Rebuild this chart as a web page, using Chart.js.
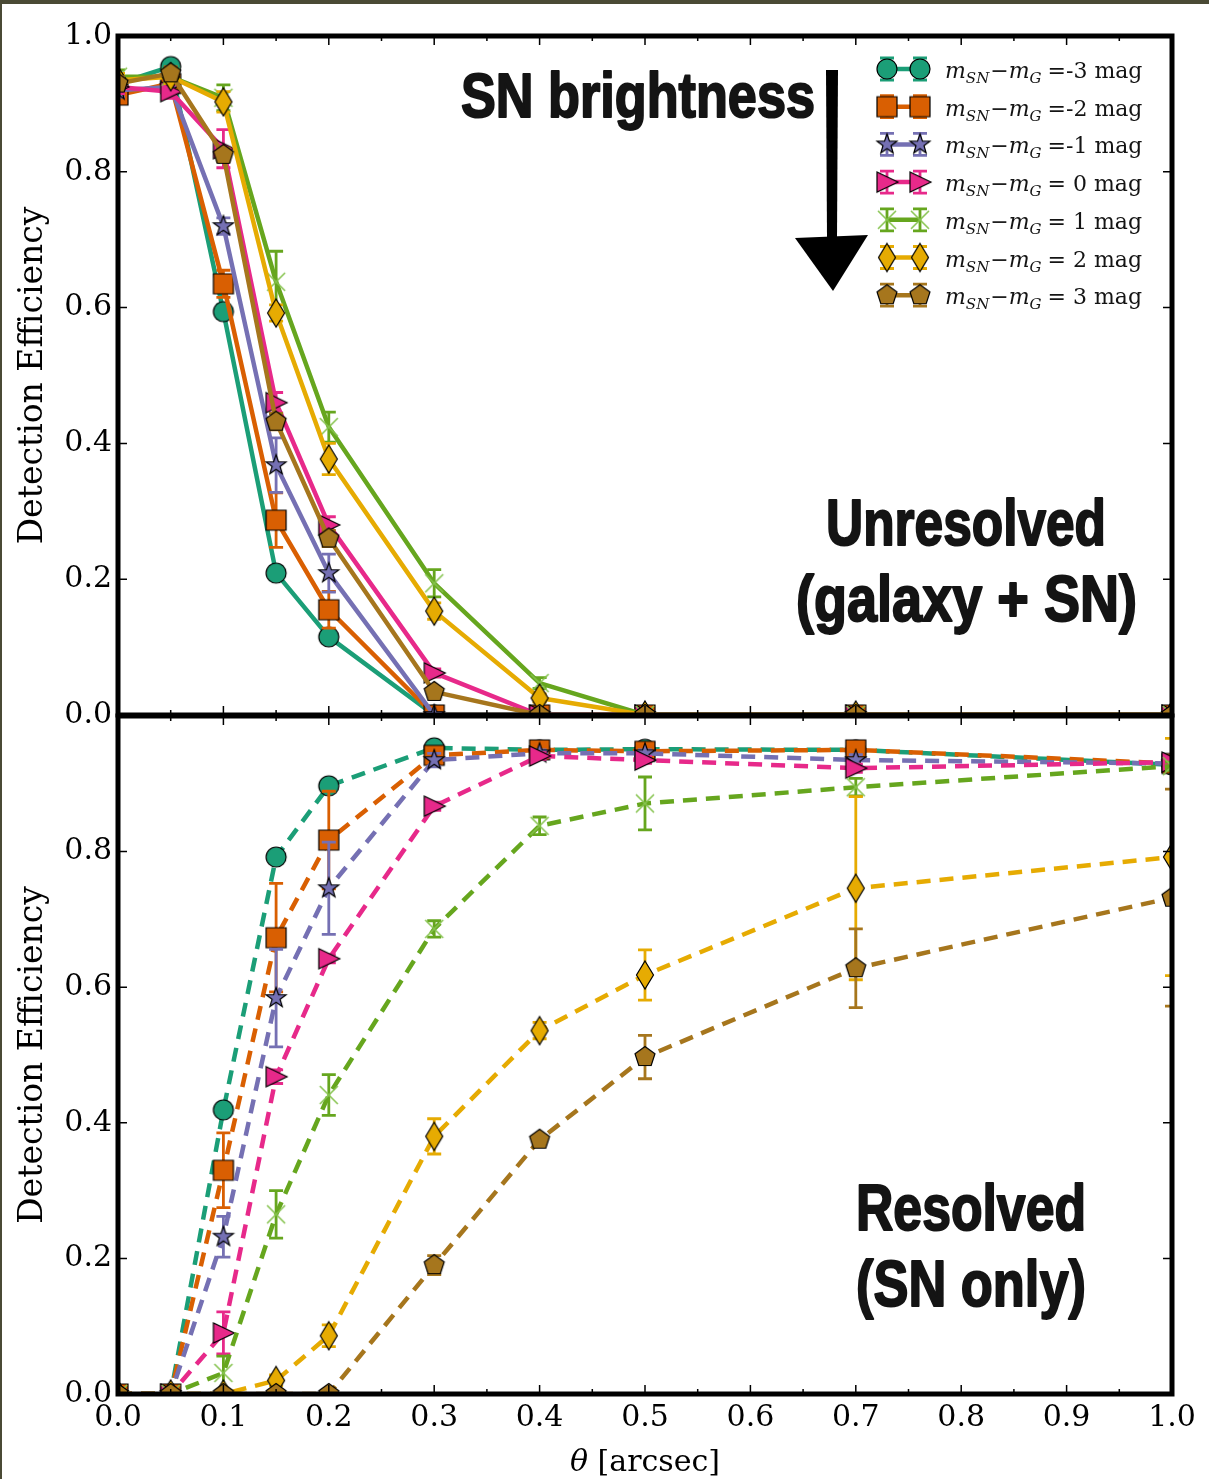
<!DOCTYPE html>
<html>
<head>
<meta charset="utf-8">
<title>Detection efficiency vs separation</title>
<script src="https://cdn.jsdelivr.net/npm/chart.js@4.4.1/dist/chart.umd.min.js"></script>
<style>
  html, body { margin: 0; padding: 0; background: #fff; }
  body { width: 1209px; height: 1479px; position: relative; overflow: hidden; }
  .wrap { position: absolute; left: 0; width: 1209px; }
  #topWrap { top: 0; height: 740px; }
  #botWrap { top: 690px; height: 789px; }
  #edgeTop { position: absolute; left: 0; top: 0; width: 1209px; height: 4px; background: #4a4a35; }
  #edgeLeft { position: absolute; left: 0; top: 0; width: 2px; height: 1479px; background: #4a4a35; }
</style>
</head>
<body>
<div class="wrap" id="topWrap"><canvas id="unresolved" width="1209" height="740"></canvas></div>
<div class="wrap" id="botWrap"><canvas id="resolved" width="1209" height="789"></canvas></div>
<div id="edgeTop"></div>
<div id="edgeLeft"></div>
<script>
// separation between SN and galaxy centre, arcsec
const theta = [0, 0.05, 0.1, 0.15, 0.2, 0.3, 0.4, 0.5, 0.7, 1.0];
const magTails = ['=-3 mag', '=-2 mag', '=-1 mag', '= 0 mag', '= 1 mag', '= 2 mag', '= 3 mag'];

// unresolved (galaxy + SN) efficiencies, m_SN - m_G = -3 ... +3
const unresM3 = [0.930, 0.955, 0.594, 0.209, 0.115, 0, 0, 0, 0, 0];
const unresM2 = [0.913, 0.930, 0.635, 0.287, 0.155, 0, 0, 0, 0, 0];
const unresM1 = [0.920, 0.925, 0.720, 0.368, 0.209, 0, 0, 0, 0, 0];
const unresP0 = [0.925, 0.918, 0.834, 0.460, 0.280, 0.062, 0, 0, 0, 0];
const unresP1 = [0.940, 0.940, 0.909, 0.638, 0.424, 0.194, 0.047, 0, 0, 0];
const unresP2 = [0.935, 0.940, 0.903, 0.592, 0.377, 0.153, 0.025, 0, 0, 0];
const unresP3 = [0.930, 0.945, 0.825, 0.432, 0.260, 0.034, 0, 0, 0, 0];

const unresErrM3 = [0.008, 0.008, 0.010, 0.010, 0.008, 0, 0, 0, 0, 0];
const unresErrM2 = [0.010, 0.010, 0.020, 0.040, 0.027, 0, 0, 0, 0, 0];
const unresErrM1 = [0.010, 0.010, 0.012, 0.040, 0.028, 0, 0, 0, 0, 0];
const unresErrP0 = [0.010, 0.010, 0.028, 0.015, 0.012, 0.006, 0, 0, 0, 0];
const unresErrP1 = [0.010, 0.010, 0.019, 0.045, 0.022, 0.020, 0.008, 0, 0, 0];
const unresErrP2 = [0.010, 0.010, 0.015, 0.012, 0.023, 0.012, 0.006, 0, 0, 0];
const unresErrP3 = [0.010, 0.010, 0.010, 0.012, 0.012, 0.006, 0, 0, 0, 0];

// resolved (SN only) efficiencies
const resM3 = [0, 0, 0.419, 0.792, 0.897, 0.953, 0.950, 0.951, 0.950, 0.928];
const resM2 = [0, 0, 0.330, 0.673, 0.817, 0.942, 0.950, 0.948, 0.950, 0.930];
const resM1 = [0, 0, 0.232, 0.584, 0.746, 0.935, 0.945, 0.945, 0.935, 0.930];
const resP0 = [0, 0, 0.090, 0.468, 0.642, 0.867, 0.941, 0.935, 0.923, 0.932];
const resP1 = [0, 0, 0.031, 0.265, 0.441, 0.686, 0.838, 0.871, 0.895, 0.926];
const resP2 = [0, 0, 0, 0.020, 0.086, 0.380, 0.536, 0.618, 0.746, 0.792];
const resP3 = [0, 0, 0, 0, 0, 0.190, 0.375, 0.497, 0.628, 0.732];

const resErrM3 = [0, 0, 0.006, 0.006, 0.006, 0.005, 0.004, 0.004, 0.004, 0.004];
const resErrM2 = [0, 0, 0.055, 0.080, 0.072, 0.010, 0.005, 0.005, 0.008, 0.005];
const resErrM1 = [0, 0, 0.030, 0.072, 0.068, 0.010, 0.005, 0.005, 0.008, 0.005];
const resErrP0 = [0, 0, 0.031, 0.010, 0.006, 0.006, 0.005, 0.005, 0.006, 0.005];
const resErrP1 = [0, 0, 0.025, 0.035, 0.030, 0.012, 0.013, 0.039, 0.013, 0.006];
const resErrP2 = [0, 0, 0, 0.008, 0.016, 0.026, 0.012, 0.037, 0.135, 0.175];
const resErrP3 = [0, 0, 0, 0, 0, 0.014, 0.006, 0.032, 0.058, 0.160];

const seriesColors = ['#1b9e77', '#d95f02', '#7570b3', '#e7298a', '#66a61e', '#e6ab02', '#a6761d'];
const markerKinds = ['circle', 'square', 'star', 'triRight', 'x', 'thinDiamond', 'pentagon'];

const SERIF = '"DejaVu Serif", "Liberation Serif", serif';
const INK = '#141414';

// offscreen marker sprites, used as pointStyle and in the legend
function makeMarker(kind, fill) {
  const size = 36;
  const c = document.createElement('canvas');
  c.width = size; c.height = size;
  const g = c.getContext('2d');
  g.translate(size / 2, size / 2);
  g.lineWidth = 1.2;
  g.strokeStyle = '#000';
  g.fillStyle = fill;
  g.lineJoin = 'miter';
  g.beginPath();
  if (kind === 'circle') {
    g.arc(0, 0, 10, 0, Math.PI * 2);
  } else if (kind === 'square') {
    g.rect(-10, -10, 20, 20);
  } else if (kind === 'star') {
    for (let i = 0; i < 10; i++) {
      const r = i % 2 ? 4.2 : 10.5;
      const a = -Math.PI / 2 + i * Math.PI / 5;
      g.lineTo(r * Math.cos(a), r * Math.sin(a));
    }
    g.closePath();
  } else if (kind === 'triRight') {
    g.moveTo(11, 0); g.lineTo(-10, -10); g.lineTo(-10, 10); g.closePath();
  } else if (kind === 'thinDiamond') {
    g.moveTo(0, -14); g.lineTo(8.5, 0); g.lineTo(0, 14); g.lineTo(-8.5, 0); g.closePath();
  } else if (kind === 'pentagon') {
    for (let i = 0; i < 5; i++) {
      const a = -Math.PI / 2 + i * 2 * Math.PI / 5;
      g.lineTo(10.5 * Math.cos(a), 10.5 * Math.sin(a));
    }
    g.closePath();
  }
  if (kind === 'x') {
    g.strokeStyle = '#86c34f';
    g.lineWidth = 1.6;
    g.moveTo(-9, -9); g.lineTo(9, 9);
    g.moveTo(9, -9); g.lineTo(-9, 9);
    g.stroke();
  } else {
    g.fill();
    g.stroke();
  }
  return c;
}
const markerImgs = markerKinds.map((k, i) => makeMarker(k, seriesColors[i]));

function buildDatasets(values, errors, dashed) {
  return values.map((vals, i) => ({
    label: 'm_SN - m_G ' + magTails[i],
    data: theta.map((t, k) => ({ x: t, y: vals[k] })),
    errors: errors[i],
    borderColor: seriesColors[i],
    backgroundColor: seriesColors[i],
    borderWidth: 4.5,
    borderDash: dashed ? [14, 9] : [],
    borderCapStyle: 'butt',
    borderJoinStyle: 'round',
    pointStyle: markerImgs[i],
    pointRadius: 10,
    tension: 0,
    clip: 0,
    order: values.length - i   // later series sit on top
  }));
}

// vertical error bars with caps, drawn just under each series
const errorBars = {
  id: 'errorBars',
  beforeDatasetDraw(chart, args) {
    const ds = chart.data.datasets[args.index];
    if (!ds.errors) return;
    const { ctx, chartArea: a, scales: { x, y } } = chart;
    ctx.save();
    ctx.beginPath();
    ctx.rect(a.left, a.top, a.right - a.left, a.bottom - a.top);
    ctx.clip();
    ctx.strokeStyle = ds.borderColor;
    ctx.lineWidth = 2.8;
    ctx.setLineDash([]);
    ctx.beginPath();
    ds.data.forEach((p, i) => {
      const e = ds.errors[i];
      if (!e) return;
      const px = x.getPixelForValue(p.x);
      const lo = y.getPixelForValue(p.y - e);
      const hi = y.getPixelForValue(p.y + e);
      ctx.moveTo(px, lo); ctx.lineTo(px, hi);
      ctx.moveTo(px - 7, lo); ctx.lineTo(px + 7, lo);
      ctx.moveTo(px - 7, hi); ctx.lineTo(px + 7, hi);
    });
    ctx.stroke();
    ctx.restore();
  }
};

// thick box with inward major/minor ticks, plus rotated y title
const frame = {
  id: 'frame',
  afterDraw(chart) {
    const { ctx, chartArea: a, scales: { x, y } } = chart;
    ctx.save();
    ctx.strokeStyle = '#000';
    ctx.lineWidth = 1.5;
    ctx.beginPath();
    for (let k = 0; k <= 20; k++) {
      const px = x.getPixelForValue(k / 20);
      const len = k % 2 ? 5 : 9;
      ctx.moveTo(px, a.top); ctx.lineTo(px, a.top + len);
      ctx.moveTo(px, a.bottom); ctx.lineTo(px, a.bottom - len);
    }
    y.ticks.forEach(t => {
      const py = y.getPixelForValue(t.value);
      ctx.moveTo(a.left, py); ctx.lineTo(a.left + 9, py);
      ctx.moveTo(a.right, py); ctx.lineTo(a.right - 9, py);
    });
    ctx.stroke();
    ctx.lineWidth = 5;
    ctx.strokeRect(a.left, a.top, a.right - a.left, a.bottom - a.top);

    ctx.fillStyle = '#000';
    ctx.font = '33px ' + SERIF;
    ctx.textAlign = 'center';
    ctx.textBaseline = 'alphabetic';
    ctx.translate(42, (a.top + a.bottom) / 2);
    ctx.rotate(-Math.PI / 2);
    ctx.fillText('Detection Efficiency', 0, 0);
    ctx.restore();
  }
};

// bold condensed caption squeezed to a given width
function caption(ctx, text, left, baseline, width, size) {
  ctx.save();
  ctx.font = 'bold ' + size + 'px "Liberation Sans", Arial, sans-serif';
  ctx.fillStyle = INK;
  ctx.strokeStyle = INK;
  ctx.textAlign = 'left';
  ctx.textBaseline = 'alphabetic';
  const w = ctx.measureText(text).width;
  ctx.translate(left, baseline);
  ctx.scale(width / w, 1);
  ctx.lineWidth = 2;
  ctx.lineJoin = 'round';
  ctx.fillText(text, 0, 0);
  ctx.strokeText(text, 0, 0);
  ctx.restore();
}

const unresolvedDecor = {
  id: 'unresolvedDecor',
  afterDraw(chart) {
    const ctx = chart.ctx;
    caption(ctx, 'SN brightness', 461, 117, 354, 63);
    caption(ctx, 'Unresolved', 826, 545, 280, 64);
    caption(ctx, '(galaxy + SN)', 796, 621, 341, 64);

    // downward arrow next to the legend
    ctx.save();
    ctx.fillStyle = '#000';
    ctx.beginPath();
    ctx.moveTo(826, 70); ctx.lineTo(838, 70); ctx.lineTo(837, 238); ctx.lineTo(827, 238);
    ctx.closePath();
    ctx.fill();
    ctx.beginPath();
    ctx.moveTo(795, 238); ctx.lineTo(868, 235); ctx.lineTo(833, 291);
    ctx.closePath();
    ctx.fill();
    ctx.restore();

    // legend: errorbar handle + mathtext-style label
    ctx.save();
    chart.data.datasets.forEach((ds, i) => {
      const ry = 69 + i * 37.7;
      const xa = 887, xb = 920;
      ctx.strokeStyle = ds.borderColor;
      ctx.lineWidth = 4.5;
      ctx.beginPath(); ctx.moveTo(xa, ry); ctx.lineTo(xb, ry); ctx.stroke();
      ctx.lineWidth = 2.8;
      ctx.beginPath();
      [xa, xb].forEach(px => {
        ctx.moveTo(px, ry - 11); ctx.lineTo(px, ry + 11);
        ctx.moveTo(px - 7, ry - 11); ctx.lineTo(px + 7, ry - 11);
        ctx.moveTo(px - 7, ry + 11); ctx.lineTo(px + 7, ry + 11);
      });
      ctx.stroke();
      const img = markerImgs[i];
      ctx.drawImage(img, xa - img.width / 2, ry - img.height / 2);
      ctx.drawImage(img, xb - img.width / 2, ry - img.height / 2);

      ctx.fillStyle = INK;
      ctx.textAlign = 'left';
      ctx.textBaseline = 'alphabetic';
      const base = ry + 9;
      let cx = 945;
      const put = (txt, font, dy) => {
        ctx.font = font;
        ctx.fillText(txt, cx, base + dy);
        cx += ctx.measureText(txt).width;
      };
      put('m', 'italic 22px ' + SERIF, 0);
      put('SN', 'italic 15px ' + SERIF, 5);
      cx += 1;
      put('\u2212', '22px ' + SERIF, 0);
      put('m', 'italic 22px ' + SERIF, 0);
      put('G', 'italic 15px ' + SERIF, 5);
      cx += 6;
      put(magTails[i], '22px ' + SERIF, 0);
    });
    ctx.restore();
  }
};

const resolvedDecor = {
  id: 'resolvedDecor',
  afterDraw(chart) {
    const ctx = chart.ctx;
    const top = 690;
    caption(ctx, 'Resolved', 856, 1230 - top, 230, 64);
    caption(ctx, '(SN only)', 856, 1306 - top, 230, 64);

    // x axis title: italic theta + plain unit
    ctx.save();
    ctx.fillStyle = '#000';
    ctx.textBaseline = 'alphabetic';
    ctx.textAlign = 'left';
    ctx.font = 'italic 30px ' + SERIF;
    const t1 = '\u03b8';
    const w1 = ctx.measureText(t1).width;
    ctx.font = '30px ' + SERIF;
    const t2 = ' [arcsec]';
    const w2 = ctx.measureText(t2).width;
    const a = chart.chartArea;
    const left = (a.left + a.right) / 2 - (w1 + w2) / 2;
    ctx.font = 'italic 30px ' + SERIF;
    ctx.fillText(t1, left, 1471 - top);
    ctx.font = '30px ' + SERIF;
    ctx.fillText(t2, left + w1, 1471 - top);
    ctx.restore();
  }
};

function makeOptions(isBottom) {
  const tickFont = { family: SERIF, size: 30 };
  return {
    responsive: false,
    animation: false,
    events: [],
    layout: { padding: isBottom ? { top: 26, right: 37, bottom: 0, left: 0 } : { top: 36, right: 37, bottom: 25, left: 0 } },
    plugins: { legend: { display: false }, tooltip: { enabled: false } },
    scales: {
      x: {
        type: 'linear', min: 0, max: 1,
        display: isBottom,
        grid: { display: false, drawTicks: false },
        border: { display: false },
        ticks: {
          stepSize: 0.1, autoSkip: false, maxRotation: 0, padding: 6,
          color: '#000', font: tickFont,
          callback: v => Number(v).toFixed(1)
        },
        afterFit: s => { s.height = isBottom ? 85 : 0; }
      },
      y: {
        type: 'linear', min: 0, max: 1,
        grid: { display: false, drawTicks: false },
        border: { display: false },
        ticks: {
          stepSize: 0.2, padding: 6,
          color: '#000', font: tickFont,
          callback: v => (isBottom && v > 0.99) ? '' : Number(v).toFixed(1)
        },
        afterFit: s => { s.width = 118; }
      }
    }
  };
}

new Chart(document.getElementById('unresolved'), {
  type: 'line',
  data: {
    datasets: buildDatasets(
      [unresM3, unresM2, unresM1, unresP0, unresP1, unresP2, unresP3],
      [unresErrM3, unresErrM2, unresErrM1, unresErrP0, unresErrP1, unresErrP2, unresErrP3],
      false)
  },
  options: makeOptions(false),
  plugins: [errorBars, frame, unresolvedDecor]
});

new Chart(document.getElementById('resolved'), {
  type: 'line',
  data: {
    datasets: buildDatasets(
      [resM3, resM2, resM1, resP0, resP1, resP2, resP3],
      [resErrM3, resErrM2, resErrM1, resErrP0, resErrP1, resErrP2, resErrP3],
      true)
  },
  options: makeOptions(true),
  plugins: [errorBars, frame, resolvedDecor]
});
</script>
</body>
</html>
